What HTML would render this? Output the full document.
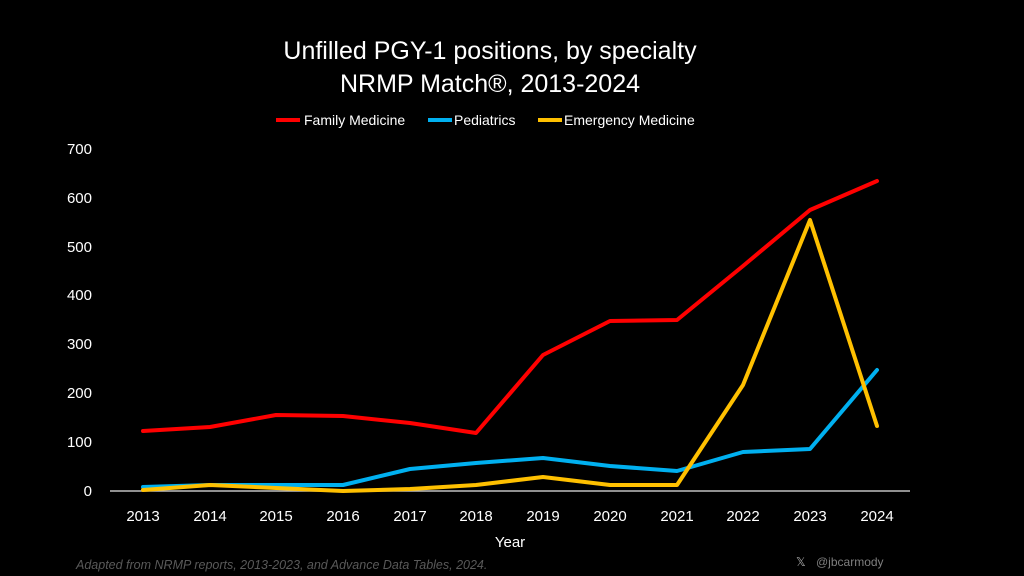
<!DOCTYPE html>
<html><head><meta charset="utf-8"><style>
html,body{margin:0;padding:0;background:#000;}
svg{display:block;font-family:"Liberation Sans",sans-serif;}
</style></head><body>
<svg width="1024" height="576" viewBox="0 0 1024 576" xmlns="http://www.w3.org/2000/svg">
<rect width="1024" height="576" fill="#000"/>
<text x="490" y="59" fill="#fff" font-size="25" text-anchor="middle">Unfilled PGY-1 positions, by specialty</text>
<text x="490" y="92" fill="#fff" font-size="25" text-anchor="middle">NRMP Match®, 2013-2024</text>
<line x1="276" y1="120" x2="300" y2="120" stroke="#ff0000" stroke-width="4"/>
<text x="304" y="125" fill="#fff" font-size="14">Family Medicine</text>
<line x1="428" y1="120" x2="452" y2="120" stroke="#00b0f0" stroke-width="4"/>
<text x="454" y="125" fill="#fff" font-size="14">Pediatrics</text>
<line x1="538" y1="120" x2="562" y2="120" stroke="#ffc000" stroke-width="4"/>
<text x="564" y="125" fill="#fff" font-size="14">Emergency Medicine</text>
<g fill="#fff" font-size="15" text-anchor="end">
<text x="92" y="496">0</text><text x="92" y="447">100</text><text x="92" y="398">200</text><text x="92" y="349">300</text><text x="92" y="300">400</text><text x="92" y="252">500</text><text x="92" y="203">600</text><text x="92" y="154">700</text>
</g>
<line x1="110" y1="491" x2="910" y2="491" stroke="#bfbfbf" stroke-width="1.5"/>
<g fill="#fff" font-size="15" text-anchor="middle">
<text x="143" y="521">2013</text><text x="210" y="521">2014</text><text x="276" y="521">2015</text><text x="343" y="521">2016</text><text x="410" y="521">2017</text><text x="476" y="521">2018</text><text x="543" y="521">2019</text><text x="610" y="521">2020</text><text x="677" y="521">2021</text><text x="743" y="521">2022</text><text x="810" y="521">2023</text><text x="877" y="521">2024</text>
<text x="510" y="547">Year</text>
</g>
<g fill="none" stroke-width="4" stroke-linejoin="round" stroke-linecap="round">
<polyline stroke="#ff0000" points="143,431 210,427 276,415 343,416 410,423 476,433 543,355 610,321 677,320 743,266 810,210 877,181"/>
<polyline stroke="#00b0f0" points="143,487 210,485 276,485 343,485 410,469 476,463 543,458 610,466 677,471 743,452 810,449 877,370"/>
<polyline stroke="#ffc000" points="143,490 210,485 276,488 343,491 410,489 476,485 543,477 610,485 677,485 743,385 810,220 877,426"/>
</g>
<text x="76" y="569" fill="#595959" font-size="12.5" font-style="italic">Adapted from NRMP reports, 2013-2023, and Advance Data Tables, 2024.</text>
<text x="796" y="566" fill="#a6a6a6" font-size="12">𝕏</text>
<text x="816" y="566" fill="#7f7f7f" font-size="12">@jbcarmody</text>
</svg>
</body></html>
